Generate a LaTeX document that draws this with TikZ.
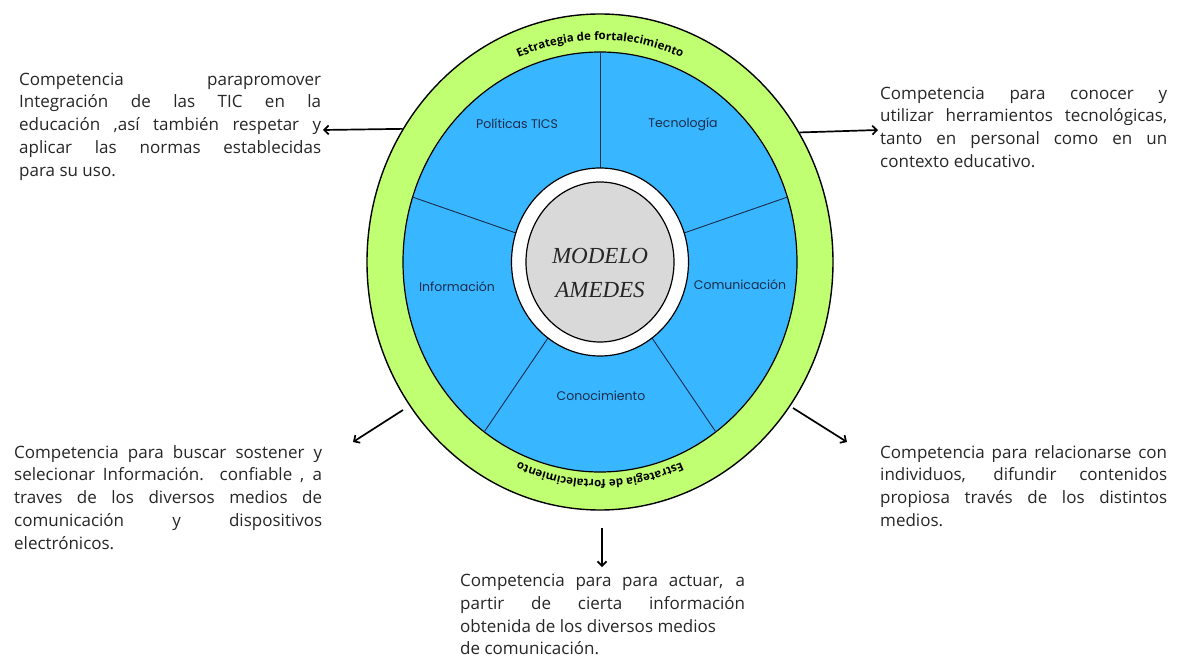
\documentclass[tikz,border=0pt]{standalone}
\usepackage{fontspec}
\setmainfont{Open Sans}
\newfontfamily\poppins{Poppins}
\newfontfamily\serifmodelo{Liberation Serif}
\usetikzlibrary{arrows.meta,decorations.text,shapes.geometric}

\definecolor{verdeanillo}{HTML}{C1FF72}
\definecolor{azulsector}{HTML}{38B6FF}
\definecolor{grisnucleo}{HTML}{D9D9D9}
\definecolor{azultexto}{HTML}{1C2C4C}

\tikzset{
  competencia/.style={anchor=north west, inner sep=0pt, text width=#1, align=justify,
    font=\fontsize{17}{22.75}\selectfont, text=black!85},
  flecha/.style={line width=1.7pt, -{Straight Barb[length=4.5pt,width=9pt]}},
  sector/.style={font=\poppins\fontsize{12.5}{14}\selectfont, text=azultexto},
  textoanillo/.style={decorate, decoration={text along path, text align=center,
    text={|\bfseries\fontsize{11.5}{14}\selectfont|Estrategia de fortalecimiento}}},
}

\begin{document}
\begin{tikzpicture}[x=1pt, y=1pt]

  % Bounding box of the scheme
  \useasboundingbox (-600,-404) rectangle (585,262) ;

  %%%%%%%%%%%%%%%%%%%%%%%%%%%%%%%%% Anillos del modelo %%%%%%%%%%%%%%%%%%%%%%%%%%%%%%%%%%%%
  \node[ellipse, draw, line width=1.4pt, fill=verdeanillo, inner sep=0pt,
        minimum width=466pt, minimum height=496pt] (anillo) at (0,0) {} ;
  \draw[line width=1.2pt, fill=azulsector] (0,0) ellipse [x radius=197, y radius=210] ;

  % Lineas entre sectores
  \foreach \a in {18,90,162,234,306} {
    \draw[azultexto, line width=0.9pt] (\a:88.5 and 94) -- (\a:197 and 210) ;
  }

  \draw[line width=1.2pt, fill=white] (0,0) ellipse [x radius=88.5, y radius=94] ;
  \draw[line width=1.2pt, fill=grisnucleo] (0,0) ellipse [x radius=74, y radius=80] ;

  \node[font=\serifmodelo\itshape\fontsize{23}{34}\selectfont, text=black!85, align=center]
    (modelo) at (0,-10.5) {MODELO\\AMEDES} ;

  % Texto sobre el anillo
  \path[textoanillo] (150:208 and 222) arc [start angle=150, end angle=30, x radius=208, y radius=222] ;
  \path[textoanillo] (-30:205 and 218) arc [start angle=-30, end angle=-150, x radius=205, y radius=218] ;

  %%%%%%%%%%%%%%%%%%%%%%%%%%%%%%%%% Sectores %%%%%%%%%%%%%%%%%%%%%%%%%%%%%%%%%%%%
  \node[sector] (politicas) at (-83,138) {Políticas TICS} ;
  \node[sector] (tecnologia) at (83,138) {Tecnología} ;
  \node[sector] (informacion) at (-143,-25) {Información} ;
  \node[sector] (comunicacion) at (140,-23) {Comunicación} ;
  \node[sector] (conocimiento) at (1,-134) {Conocimiento} ;

  %%%%%%%%%%%%%%%%%%%%%%%%%%%%%%%%% Competencias %%%%%%%%%%%%%%%%%%%%%%%%%%%%%%%%%%%%
  \node[competencia=302pt] (compTL) at (-581,192.9) {\strut Competencia parapromover\linebreak
    Integración de las TIC en la\linebreak
    educación ,así también respetar y\linebreak
    aplicar las normas establecidas\linebreak
    para su uso.} ;
  \node[competencia=287pt] (compTR) at (280,178.9) {\strut Competencia para conocer y\linebreak
    utilizar herramientos tecnológicas,\linebreak
    tanto en personal como en un\linebreak
    contexto educativo.} ;
  \node[competencia=308pt] (compBL) at (-586,-180.1) {\strut Competencia para buscar sostener y\linebreak
    selecionar Información. confiable , a\linebreak
    traves de los diversos medios de\linebreak
    comunicación y dispositivos\linebreak
    electrónicos.} ;
  \node[competencia=287pt] (compBR) at (280,-180.1) {\strut Competencia para relacionarse con\linebreak
    individuos, difundir contenidos\linebreak
    propiosa través de los distintos\linebreak
    medios.} ;
  \node[competencia=285pt] (compBC) at (-140,-308.6) {\strut Competencia para para actuar, a\linebreak
    partir de cierta información\linebreak
    obtenida de los diversos medios\newline
    de comunicación.} ;

  %%%%%%%%%%%%%%%%%%%%%%%%%%%%%%%%% Flechas %%%%%%%%%%%%%%%%%%%%%%%%%%%%%%%%%%%%
  \coordinate (pTL) at (-277,132) ;
  \coordinate (pTR) at (278,132) ;
  \coordinate (sBL) at (-197,-148) ;
  \coordinate (pBL) at (-247,-180) ;
  \coordinate (sBR) at (193,-146) ;
  \coordinate (pBR) at (247,-180) ;
  \coordinate (sBC) at (2,-266) ;
  \coordinate (pBC) at (2,-305) ;

  \draw[flecha] (anillo.146.2) -- (pTL) ;
  \draw[flecha] (anillo.33.8) -- (pTR) ;
  \draw[flecha] (sBL) -- (pBL) ;
  \draw[flecha] (sBR) -- (pBR) ;
  \draw[flecha] (sBC) -- (pBC) ;

\end{tikzpicture}
\end{document}
